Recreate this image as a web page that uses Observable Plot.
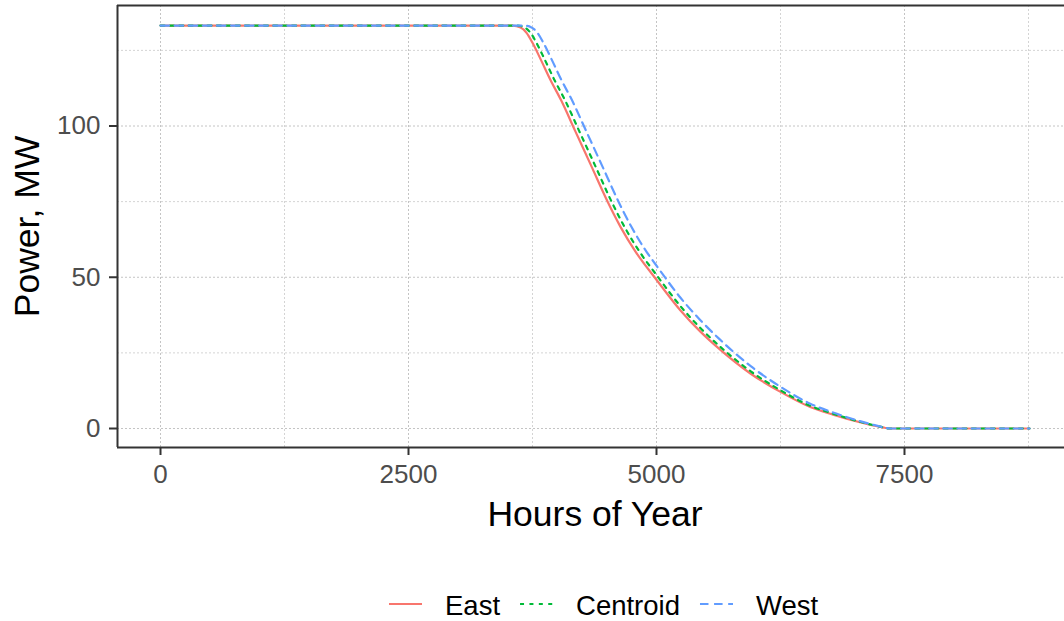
<!DOCTYPE html>
<html>
<head>
<meta charset="utf-8">
<script src="https://cdn.jsdelivr.net/npm/d3@7"></script>
<script src="https://cdn.jsdelivr.net/npm/@observablehq/plot@0.6"></script>
<style>
  html, body { margin: 0; padding: 0; background: #fff; }
  body { width: 1064px; height: 621px; overflow: hidden; font-family: "Liberation Sans", Arial, sans-serif; }
  #chart svg { display: block; }
  #legend { display: block; }
</style>
</head>
<body>
<div id="chart"></div>
<svg id="legend" width="1064" height="61"></svg>
<script>
// Sorted hourly output (duration curves) for three sites, MW
const seriesNames = ["East", "Centroid", "West"];
const seriesColors = ["#F8766D", "#00BA38", "#619CFF"];
const seriesDash = [null, "4,5.4", "8.5,5.6"];

const eastHours = [0, 3550, 3630, 3690, 3750, 3830, 3930, 4040, 4180, 4340, 4510, 4640, 4790, 4990, 5240, 5440, 5630, 5950, 6250, 6550, 6780, 7060, 7200, 7300, 7340, 8760];
const eastMW    = [133.2, 133.2, 132.6, 130.8, 127.5, 122.2, 115.3, 108.4, 98.4, 87.0, 74.8, 66.5, 58.4, 49.6, 39.1, 32.1, 26.4, 18.1, 12.1, 7.1, 4.6, 2.0, 0.9, 0.25, 0, 0];

const centroidHours = [0, 3590, 3670, 3730, 3790, 3870, 3970, 4080, 4220, 4380, 4550, 4680, 4830, 4990, 5240, 5440, 5630, 5950, 6250, 6550, 6780, 7060, 7200, 7300, 7340, 8760];
const centroidMW    = [133.2, 133.2, 132.6, 130.8, 127.5, 122.2, 115.3, 108.4, 98.4, 87.0, 74.8, 66.5, 58.4, 51.2, 40.5, 33.3, 27.4, 18.9, 12.65, 7.5, 4.9, 2.15, 1.0, 0.3, 0, 0];

const westHours = [0, 3660, 3740, 3800, 3860, 3940, 4040, 4150, 4290, 4450, 4620, 4750, 4900, 4990, 5240, 5440, 5630, 5950, 6250, 6550, 6780, 7060, 7200, 7300, 7350, 8760];
const westMW    = [133.2, 133.2, 132.6, 130.8, 127.5, 122.2, 115.3, 108.4, 98.4, 87.0, 74.8, 66.5, 58.4, 54.3, 43.3, 35.9, 29.7, 20.6, 13.8, 8.2, 5.3, 2.35, 1.1, 0.3, 0, 0];

const xTicks = [0, 2500, 5000, 7500];
const xMinor = [1250, 3750, 6250, 8750];
const yTicks = [0, 50, 100];
const yMinor = [25, 75, 125];

const xLabel = "Hours of Year";
const yLabel = "Power, MW";

const toRows = (hours, mw) => hours.map((h, i) => ({hour: h, mw: mw[i]}));
const seriesRows = [toRows(eastHours, eastMW), toRows(centroidHours, centroidMW), toRows(westHours, westMW)];

const xDomain = [-433.5, 9113];
const yDomain = [-6.28, 139.84];
const fontFamily = '"Liberation Sans", Arial, sans-serif';

const gridStyle = {stroke: "#c4c4c4", strokeOpacity: 1, strokeWidth: 1, strokeDasharray: "2,2"};
const minorStyle = {stroke: "#d4d4d4", strokeOpacity: 1, strokeWidth: 1, strokeDasharray: "2,2"};
const border = {stroke: "#333333", strokeWidth: 2};

const chart = Plot.plot({
  width: 1064,
  height: 560,
  marginLeft: 117,
  marginRight: 0,
  marginTop: 5,
  marginBottom: 113,
  style: {fontFamily, background: "#ffffff", color: "#000", overflow: "visible"},
  x: {domain: xDomain},
  y: {domain: yDomain},
  marks: [
    Plot.gridX(xMinor, minorStyle),
    Plot.gridY(yMinor, minorStyle),
    Plot.gridX(xTicks, gridStyle),
    Plot.gridY(yTicks, gridStyle),
    ...seriesRows.map((rows, i) => Plot.line(rows, {
      x: "hour", y: "mw",
      stroke: seriesColors[i],
      strokeWidth: 2.2,
      strokeDasharray: seriesDash[i] ?? undefined,
      curve: "monotone-x"
    })),
    Plot.ruleY([yDomain[1]], border),
    Plot.ruleY([yDomain[0]], border),
    Plot.ruleX([xDomain[0]], border),
    Plot.axisX({ticks: xTicks, tickSize: 8, tickPadding: 9, fontSize: 26, label: null,
      tickFormat: d => String(d), stroke: "#333333", strokeWidth: 2, fill: "#4d4d4d"}),
    Plot.axisY({ticks: yTicks, tickSize: 8, tickPadding: 9, fontSize: 26, label: null,
      tickFormat: d => String(d), stroke: "#333333", strokeWidth: 2, fill: "#4d4d4d"}),
    Plot.text([xLabel], {frameAnchor: "bottom", dx: 4, dy: 67, fontSize: 35.5,
      textAnchor: "middle", lineAnchor: "middle", fill: "#000"}),
    Plot.text([yLabel], {frameAnchor: "left", dx: -90, rotate: -90, fontSize: 35.5,
      textAnchor: "middle", lineAnchor: "middle", fill: "#000"})
  ]
});
document.getElementById("chart").append(chart);

// Legend below the plot: line swatches with series names
const legend = d3.select("#legend");
const swatchW = 33, swatchGap = 23, itemGap = 20, lineY = 44, textY = 55;
let cursor = 389;
seriesNames.forEach((name, i) => {
  legend.append("line")
    .attr("x1", cursor).attr("x2", cursor + swatchW)
    .attr("y1", lineY).attr("y2", lineY)
    .attr("stroke", seriesColors[i]).attr("stroke-width", 2.2)
    .attr("stroke-dasharray", seriesDash[i]);
  const t = legend.append("text")
    .attr("x", cursor + swatchW + swatchGap).attr("y", textY)
    .attr("font-family", fontFamily).attr("font-size", 27.5).attr("fill", "#000")
    .text(name);
  cursor += swatchW + swatchGap + t.node().getComputedTextLength() + itemGap;
});
</script>
</body>
</html>
